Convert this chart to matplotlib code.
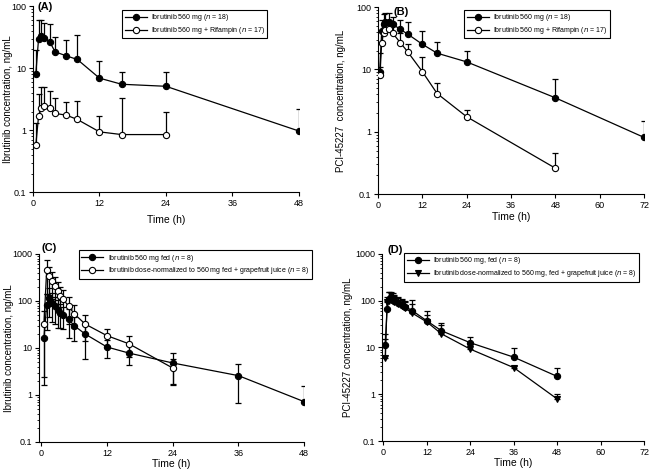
import matplotlib
matplotlib.use("Agg")
import matplotlib.pyplot as plt
import numpy as np

plt.rcParams['font.family'] = ['Liberation Sans', 'DejaVu Sans']

# (A) ibrutinib +/- rifampin
a_time = [0.5, 1, 1.5, 2, 3, 4, 6, 8, 12, 16, 24, 48]
a_ibr = [8.0, 29.7, 32.8, 31, 26.6, 18.3, 15.8, 13.8, 6.9, 5.5, 5.1, 0.97]
a_ibr_sd = [11.5, 29, 26, 23, 24, 14, 13, 21, 6.2, 3.1, 3.6, 1.2]
a_time_rif = [0.5, 1, 1.5, 2, 3, 4, 6, 8, 12, 16, 24]
a_rif = [0.57, 1.68, 2.24, 2.44, 2.29, 1.86, 1.75, 1.49, 0.94, 0.85, 0.85]
a_rif_sd = [0.74, 2.2, 2.7, 2.5, 2.0, 1.4, 1.1, 1.5, 0.74, 2.4, 1.13]

# (B) PCI-45227 +/- rifampin
b_time = [0.5, 1, 1.5, 2, 3, 4, 6, 8, 12, 16, 24, 48, 72]
b_ibr = [9.2, 42, 54, 58, 58, 53, 44, 37, 25.3, 18.2, 13.2, 3.5, 0.81]
b_ibr_sd = [9.4, 21, 24, 22, 22, 17, 18, 20, 16.7, 9.4, 6.6, 3.4, 0.7]
b_time_rif = [0.5, 1, 1.5, 2, 3, 4, 6, 8, 12, 16, 24, 48]
b_rif = [8.1, 27, 38, 43, 45, 38, 27, 19.3, 9.2, 4.1, 1.74, 0.26]
b_rif_sd = [2.9, 13, 14, 17, 17, 17, 11, 6, 6.8, 1.9, 0.49, 0.19]

# (C) ibrutinib fed +/- grapefruit juice
c_time = [0.5, 1, 1.5, 2, 2.5, 3, 3.5, 4, 5, 6, 8, 12, 16, 24, 36, 48]
c_fed = [16.3, 84, 116, 91, 77, 65, 56, 50, 41, 30, 19.9, 10.5, 7.8, 4.8, 2.58, 0.72]
c_fed_sd = [14.7, 60, 70, 55, 45, 38, 30, 25, 25, 16, 14, 4.3, 3.5, 3.2, 1.9, 0.8]
c_time_gj = [0.5, 1, 1.5, 2, 2.5, 3, 3.5, 4, 5, 6, 8, 12, 16, 24]
c_gj = [32.4, 449, 335, 262, 204, 161, 126, 110, 77, 54, 32.4, 18.3, 12.3, 3.75]
c_gj_sd = [30, 308, 200, 150, 120, 90, 70, 60, 45, 27, 18, 7.5, 6, 2.0]

# (D) PCI-45227 fed +/- grapefruit juice
d_time = [0.5, 1, 1.5, 2, 2.5, 3, 4, 5, 6, 8, 12, 16, 24, 36, 48]
d_fed = [11.4, 66, 110, 120, 110, 100, 90, 82, 75, 61, 37, 22.8, 12.6, 6.2, 2.4]
d_fed_sd = [8.2, 34, 40, 35, 35, 35, 30, 28, 25, 44, 22, 11, 3.8, 3.5, 1.2]
d_gj = [5.9, 92, 100, 105, 100, 95, 85, 78, 70, 54, 35, 19.6, 9.2, 3.7, 0.79]
d_gj_sd = [9.1, 28, 50, 40, 35, 30, 28, 25, 22, 31, 15, 10, 2.8, 0.4, 0.2]


def series(ax, t, y, sd, marker, face, label, both=False):
    y = np.array(y)
    sd = np.array(sd)
    if both:
        low = np.where(y - sd > 0, sd, 0)
    else:
        low = np.zeros_like(sd)
    ax.errorbar(t, y, yerr=[low, sd], fmt='none', ecolor='black',
                elinewidth=0.9, capsize=2.5, capthick=0.9, zorder=2)
    ax.plot(t, y, color='black', lw=0.9, marker=marker, ms=4.5,
            mfc=face, mec='black', mew=0.8, label=label, zorder=3)


def style(ax, xmax, xmin, ymin, ymax, ylabel, ylx, xly):
    ax.set_yscale('log')
    ax.set_ylim(ymin, ymax)
    ax.set_xlim(xmin, xmax)
    ax.set_xticks(np.arange(0, xmax + 1, 12))
    ax.yaxis.set_major_formatter(matplotlib.ticker.FuncFormatter(lambda v, p: f"{v:g}"))
    ax.spines['top'].set_visible(False)
    ax.spines['right'].set_visible(False)
    ax.tick_params(labelsize=6.5, length=3, width=0.8, pad=2)
    ax.tick_params(which='minor', length=1.5, width=0.6)
    ax.set_ylabel(ylabel, fontsize=7)
    ax.yaxis.set_label_coords(ylx, 0.5)
    ax.set_xlabel("Time (h)", fontsize=7.5)
    ax.xaxis.set_label_coords(0.5, xly)


fig = plt.figure(figsize=(6.5, 4.7), dpi=100)
axA = fig.add_axes([0.0508, 0.591, 0.409, 0.396])
axB = fig.add_axes([0.5815, 0.587, 0.4095, 0.398])
axC = fig.add_axes([0.060, 0.0596, 0.408, 0.400])
axD = fig.add_axes([0.5877, 0.0617, 0.4033, 0.398])

n18 = "Ibrutinib 560 mg ($\\it{n}$ = 18)"
n17 = "Ibrutinib 560 mg + Rifampin ($\\it{n}$ = 17)"

series(axA, a_time, a_ibr, a_ibr_sd, 'o', 'black', n18)
series(axA, a_time_rif, a_rif, a_rif_sd, 'o', 'white', n17)
style(axA, 48, 0, 0.1, 100, "Ibrutinib concentration, ng/mL", -0.075, -0.12)

series(axB, b_time, b_ibr, b_ibr_sd, 'o', 'black', n18)
series(axB, b_time_rif, b_rif, b_rif_sd, 'o', 'white', n17)
style(axB, 72, 0, 0.1, 100, "PCI-45227  concentration, ng/mL", -0.12, -0.093)

series(axC, c_time, c_fed, c_fed_sd, 'o', 'black',
       "Ibrutinib 560 mg fed ($\\it{n}$ = 8)", both=True)
series(axC, c_time_gj, c_gj, c_gj_sd, 'o', 'white',
       "Ibrutinib dose-normalized to 560 mg fed + grapefruit juice ($\\it{n}$ = 8)", both=True)
style(axC, 48, -0.4, 0.1, 1000, "Ibrutinib concentration, ng/mL", -0.095, -0.09)

series(axD, d_time, d_fed, d_fed_sd, 'o', 'black', "Ibrutinib 560 mg, fed ($\\it{n}$ = 8)")
series(axD, d_time, d_gj, d_gj_sd, 'v', 'black',
       "Ibrutinib dose-normalized to 560 mg, fed + grapefruit juice ($\\it{n}$ = 8)")
style(axD, 72, -0.4, 0.1, 1000, "PCI-45227 concentration, ng/mL", -0.11, -0.09)

for ax, anchor in [(axA, (0.335, 0.98)), (axB, (0.325, 0.985)),
                   (axC, (0.15, 1.02)), (axD, (0.085, 1.005))]:
    leg = ax.legend(loc='upper left', bbox_to_anchor=anchor, fontsize=5,
                    fancybox=False, framealpha=1, edgecolor='black',
                    handlelength=3.2, borderpad=0.35, labelspacing=0.25,
                    handletextpad=0.6, borderaxespad=0)
    leg.get_frame().set_linewidth(0.8)

for x, y, s in [(38, 7, "(A)"), (393, 12, "(B)"), (42, 248, "(C)"), (387, 250, "(D)")]:
    fig.text(x / 650, 1 - y / 470, s, fontsize=8, fontweight='bold', va='center')

fig.savefig("out.png", dpi=100)
